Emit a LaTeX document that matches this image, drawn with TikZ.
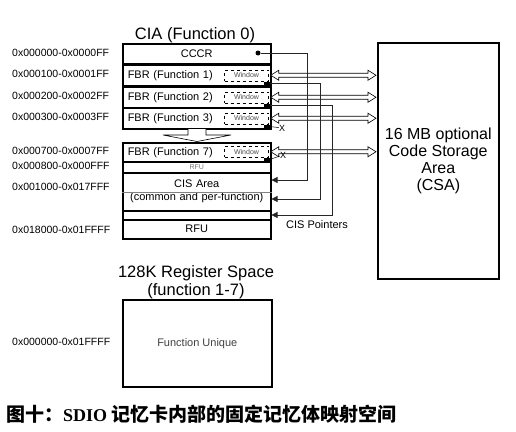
\documentclass[tikz,border=0pt]{standalone}
\usepackage{fontspec}
\setmainfont{Liberation Sans}
\newfontfamily\cjkfont{Noto Sans CJK SC}
\newfontfamily\capfont{Liberation Serif}
\usetikzlibrary{arrows.meta}

\tikzset{
  row/.style={draw, line width=1.5pt, text width=138pt, inner xsep=5pt, inner ysep=0pt, anchor=north west, font=\fontsize{11}{13}\selectfont},
  win/.style={draw, dashed, line width=0.5pt, minimum width=44pt, minimum height=11pt, inner sep=0pt, text=black!70, font=\fontsize{7}{8}\selectfont},
  addr/.style={anchor=west, inner sep=0pt, font=\fontsize{10.5}{12}\selectfont},
  blk/.style={fill, minimum width=6pt, minimum height=4pt, inner sep=0pt},
  ptr/.style={draw, black!85, line width=0.7pt, -{Triangle[length=6pt,width=6pt]}},
  dbl/.style={draw, fill=white, line width=0.6pt},
  ttl/.style={inner sep=0pt, font=\fontsize{16.5}{18}\selectfont},
}

\begin{document}
\begin{tikzpicture}[x=1pt,y=-1pt]
\path[use as bounding box] (0,0) rectangle (516,431);

% CIA block
\node[ttl] (cia) at (195,35) {CIA (Function 0)};
\node[row, align=center, minimum height=20pt] (cccr) at (122,43) {CCCR};
\foreach \i/\y in {1/64, 2/86, 3/107} {
  \node[row, align=left, minimum height=21pt] (fbr\i) at (122,\y) {FBR (Function \i)};
  \node[win] (w\i) at ([xshift=-25pt]fbr\i.east) {Window};
  \node[blk] (m\i) at ([xshift=-5pt,yshift=3pt]fbr\i.south east) {};
}
\node[row, align=left, minimum height=19pt] (fbr7) at (122,142) {FBR (Function 7)};
\node[win] (w7) at ([xshift=-25pt,yshift=0.5pt]fbr7.east) {Window};
\node[blk] (m7) at ([xshift=-5pt,yshift=3pt]fbr7.south east) {};
\node[row, align=center, minimum height=11pt, text=black!55, font=\fontsize{7}{8}\selectfont] (rfua) at (122,161) {RFU};
\node[row, align=center, minimum height=38pt] (cis) at (122,172) {CIS Area\\(common and per-function)};
\draw[black!50, line width=0.5pt] (cis.west |- 0,192) -- (cis.east |- 0,192);
\node[row, minimum height=9pt] (cisb) at (122,210) {};
\node[row, align=center, minimum height=19pt] (rfub) at (122,219) {RFU};

% skipped functions 4-6
\draw[line width=0.6pt, fill=white] (188,129) -- (188,135) -- (163,135) -- (197,141.5)
  -- (231,135) -- (206,135) -- (206,129);

% addresses
\foreach \y/\t [count=\k] in {53/0x000000-0x0000FF, 74/0x000100-0x0001FF,
  96/0x000200-0x0002FF, 117/0x000300-0x0003FF, 151/0x000700-0x0007FF,
  166/0x000800-0x000FFF, 187/0x001000-0x017FFF, 230/0x018000-0x01FFFF} {
  \node[addr] (a\k) at (12,\y) {\t};
}

% code storage area
\node[draw, line width=1.6pt, minimum width=121pt, minimum height=236pt, anchor=north west,
  inner sep=0pt, align=center, font=\fontsize{16}{17}\selectfont] (csa) at (377,42)
  {16 MB optional\\Code Storage\\Area\\(CSA)};
\foreach \i in {1,2,3,7} {
  \coordinate (l\i) at ([xshift=2pt]w\i.east);
  \coordinate (r\i) at ([xshift=-1pt]w\i.east -| csa.west);
  \draw[dbl] (l\i) -- ([xshift=8pt,yshift=5pt]l\i) -- ([xshift=8pt,yshift=2pt]l\i)
    -- ([xshift=-8pt,yshift=2pt]r\i) -- ([xshift=-8pt,yshift=5pt]r\i) -- (r\i)
    -- ([xshift=-8pt,yshift=-5pt]r\i) -- ([xshift=-8pt,yshift=-2pt]r\i)
    -- ([xshift=8pt,yshift=-2pt]l\i) -- ([xshift=8pt,yshift=-5pt]l\i) -- cycle;
}

% CIS pointers
\node[circle, fill, inner sep=0pt, minimum size=5pt] (dot) at (258,53) {};
\coordinate (t0) at (cis.east |- 0,180);
\coordinate (t1) at (cis.east |- 0,199);
\coordinate (t2) at (cisb.east |- 0,215);
\draw[ptr] (dot) -| ([xshift=36pt]t0) -- (t0);
\draw[ptr] (m1.east) -| ([xshift=49pt]t1) -- (t1);
\draw[ptr] (m2.east) -| ([xshift=61pt]t2) -- (t2);
\node[inner sep=0pt, font=\fontsize{9}{9}\selectfont] (x3) at (282,128) {X};
\node[inner sep=0pt, font=\fontsize{9}{9}\selectfont] (x7) at (283,155) {X};
\draw[line width=0.5pt] (m3.east) -- (x3);
\draw[line width=0.5pt] (m7.east) -- (x7);
\node[inner sep=0pt, font=\fontsize{11}{13}\selectfont] (cisp) at (317,225) {CIS Pointers};

% register space
\node[ttl] (regt) at (196,273) {128K Register Space};
\node[ttl] (regf) at (196,291) {(function 1-7)};
\node[draw, line width=1.6pt, minimum width=149pt, minimum height=87pt, anchor=north west,
  inner sep=0pt, text=black!75, font=\fontsize{11}{13}\selectfont] (fu) at (122,299) {Function Unique};
\node[addr] (a9) at (12,342) {0x000000-0x01FFFF};

% caption
\node[anchor=west, inner sep=0pt] (cap) at (6,414) {\fontsize{19}{22}\selectfont\cjkfont\bfseries
  图十：{\capfont\fontsize{18}{20}\selectfont\bfseries SDIO} 记忆卡内部的固定记忆体映射空间};
\end{tikzpicture}
\end{document}
